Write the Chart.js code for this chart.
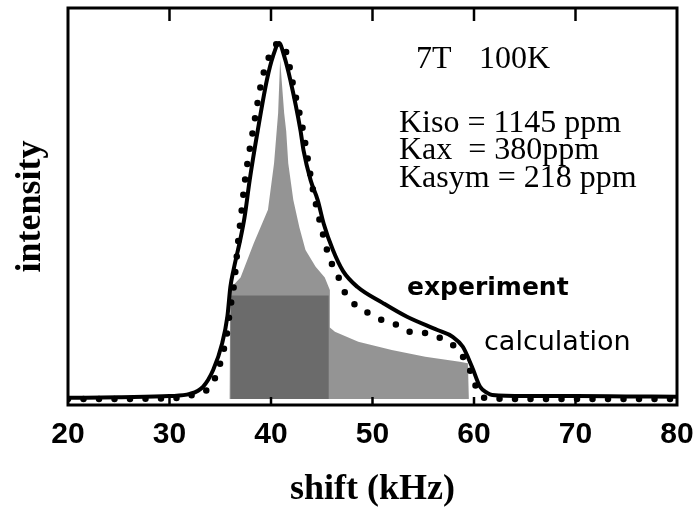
<!DOCTYPE html>
<html><head><meta charset="utf-8">
<script src="https://cdn.jsdelivr.net/npm/chart.js@4"></script>
<style>html,body{margin:0;padding:0;background:#fff}#wrap{width:699px;height:511px;position:relative}</style>
</head><body><div id="wrap"><canvas id="c"></canvas></div>
<script>
// ---- data (x in kHz, y normalised intensity) ----
const xTickValues = [20, 30, 40, 50, 60, 70, 80];
const expX = [20, 25, 30, 32, 33.3, 34.3, 35.2, 35.7, 36.0, 36.3, 37.0, 37.4, 37.9, 38.7, 39.6, 40.2, 40.8, 41.3, 41.9, 42.9, 43.2, 43.9, 44.6, 45.2, 46.1, 47.1, 48.5, 51.0, 53.4, 56.4, 57.9, 58.9, 59.8, 60.6, 61.3, 61.8, 65, 70, 75, 80];
const expY = [0.003, 0.005, 0.008, 0.014, 0.034, 0.081, 0.157, 0.23, 0.314, 0.36, 0.45, 0.51, 0.613, 0.753, 0.894, 0.96, 0.997, 0.96, 0.894, 0.753, 0.697, 0.613, 0.557, 0.49, 0.417, 0.358, 0.314, 0.269, 0.23, 0.193, 0.174, 0.146, 0.09, 0.034, 0.017, 0.011, 0.008, 0.008, 0.007, 0.006];
const calcX = [20, 25, 30, 32, 32.61, 33.99, 34.68, 35.17, 35.67, 35.96, 36.35, 36.55, 36.75, 37.04, 37.44, 38.23, 39.11, 39.9, 40.79, 41.58, 42.07, 43.15, 43.65, 44.14, 45.02, 45.81, 46.5, 46.99, 48.08, 49.56, 50.94, 52.41, 53.69, 55.17, 56.65, 58.13, 59.11, 59.8, 60.39, 61.08, 65, 70, 75, 80];
const calcY = [0.0, 0.0, 0.002, 0.008, 0.017, 0.031, 0.073, 0.118, 0.185, 0.249, 0.319, 0.375, 0.437, 0.51, 0.613, 0.753, 0.894, 0.964, 0.997, 0.964, 0.894, 0.753, 0.667, 0.585, 0.473, 0.39, 0.353, 0.314, 0.269, 0.241, 0.221, 0.207, 0.188, 0.185, 0.171, 0.146, 0.109, 0.067, 0.02, 0.003, 0.0, 0.0, 0.0, 0.0];
const shadeX = [35.9, 36.0, 37.0, 38.3, 39.7, 40.3, 40.7, 40.9, 41.3, 41.5, 41.7, 42.2, 42.8, 43.4, 44.4, 45.3, 45.8, 45.8, 46.3, 48.6, 51.9, 55.2, 58.6, 59.4, 59.5];
const shadeY = [0.0, 0.31, 0.34, 0.436, 0.53, 0.66, 0.8, 0.95, 0.8, 0.75, 0.66, 0.557, 0.48, 0.417, 0.37, 0.34, 0.305, 0.2, 0.188, 0.16, 0.137, 0.118, 0.104, 0.1, 0.0];
const coreX = [36.0, 36.0, 45.7, 45.7];
const coreY = [0.0, 0.29, 0.29, 0.0];

const pts = (xs, ys) => xs.map((x, i) => ({x: x, y: ys[i]}));

const framePlugin = {
  id: 'frame',
  afterDatasetsDraw(chart) {
    const {ctx, chartArea: a, scales: {x}} = chart;
    ctx.save();
    ctx.strokeStyle = '#000';
    ctx.lineWidth = 2.5;
    xTickValues.forEach(v => {
      if (v === 20 || v === 80) return;
      const px = x.getPixelForValue(v);
      ctx.beginPath(); ctx.moveTo(px, a.top); ctx.lineTo(px, a.top + 13); ctx.stroke();
      ctx.beginPath(); ctx.moveTo(px, a.bottom); ctx.lineTo(px, a.bottom - 8); ctx.stroke();
    });
    ctx.lineWidth = 3;
    ctx.strokeRect(a.left, a.top, a.right - a.left, a.bottom - a.top);
    ctx.restore();
  }
};

const textPlugin = {
  id: 'texts',
  afterDraw(chart) {
    const ctx = chart.ctx;
    ctx.save();
    ctx.fillStyle = '#000';
    ctx.textBaseline = 'alphabetic';
    ctx.textAlign = 'left';
    ctx.font = '32px "Liberation Serif"';
    ctx.fillText('7T', 416, 68);
    ctx.fillText('100K', 479, 68);
    ctx.fillText('Kiso = 1145 ppm', 399, 132);
    ctx.fillText('Kax  = 380ppm', 399, 159);
    ctx.fillText('Kasym = 218 ppm', 399, 187);
    ctx.font = 'bold 25px "DejaVu Sans"';
    ctx.fillText('experiment', 407, 295);
    ctx.font = '27px "DejaVu Sans"';
    ctx.fillText('calculation', 484, 350);
    ctx.restore();
  }
};

new Chart(document.getElementById('c'), {
  type: 'line',
  data: {
    datasets: [
      {label: 'experiment', data: pts(expX, expY), borderColor: '#000', borderWidth: 4, pointRadius: 0, cubicInterpolationMode: 'monotone', fill: false, order: 0},
      {label: 'calculation', data: pts(calcX, calcY), borderColor: '#000', borderWidth: 6.5, borderDash: [0, 15.5], borderCapStyle: 'round', pointRadius: 0, cubicInterpolationMode: 'monotone', fill: false, order: 1},
      {label: 'core', data: pts(coreX, coreY), borderWidth: 0, borderColor: 'rgba(0,0,0,0)', backgroundColor: 'rgba(0,0,0,0.28)', pointRadius: 0, tension: 0, fill: 'origin', order: 2},
      {label: 'shade', data: pts(shadeX, shadeY), borderWidth: 0, borderColor: 'rgba(0,0,0,0)', backgroundColor: 'rgba(0,0,0,0.42)', pointRadius: 0, tension: 0, fill: 'origin', order: 3}
    ]
  },
  options: {
    responsive: true, maintainAspectRatio: false, animation: false,
    layout: {padding: {top: 8, right: 22, left: 0, bottom: 0}},
    plugins: {legend: {display: false}, tooltip: {enabled: false}},
    scales: {
      x: {
        type: 'linear', min: 20, max: 80,
        afterBuildTicks(s) { s.ticks = xTickValues.map(v => ({value: v})); },
        ticks: {color: '#000', padding: 4, font: {family: '"Liberation Sans"', weight: 'bold', size: 30}},
        grid: {display: false}, border: {display: false},
        title: {display: true, text: 'shift (kHz)', color: '#000', font: {family: '"Liberation Serif"', weight: 'bold', size: 36}, padding: {top: 0, bottom: 0}},
        afterFit(s) { s.height = 106; }
      },
      y: {
        type: 'linear', min: -0.017, max: 1.095,
        ticks: {display: false}, grid: {display: false}, border: {display: false},
        title: {display: true, text: 'intensity', color: '#000', font: {family: '"Liberation Serif"', weight: 'bold', size: 36}, padding: {top: 9, bottom: 0}},
        afterFit(s) { s.width = 68; }
      }
    }
  },
  plugins: [framePlugin, textPlugin]
});
</script></body></html>
